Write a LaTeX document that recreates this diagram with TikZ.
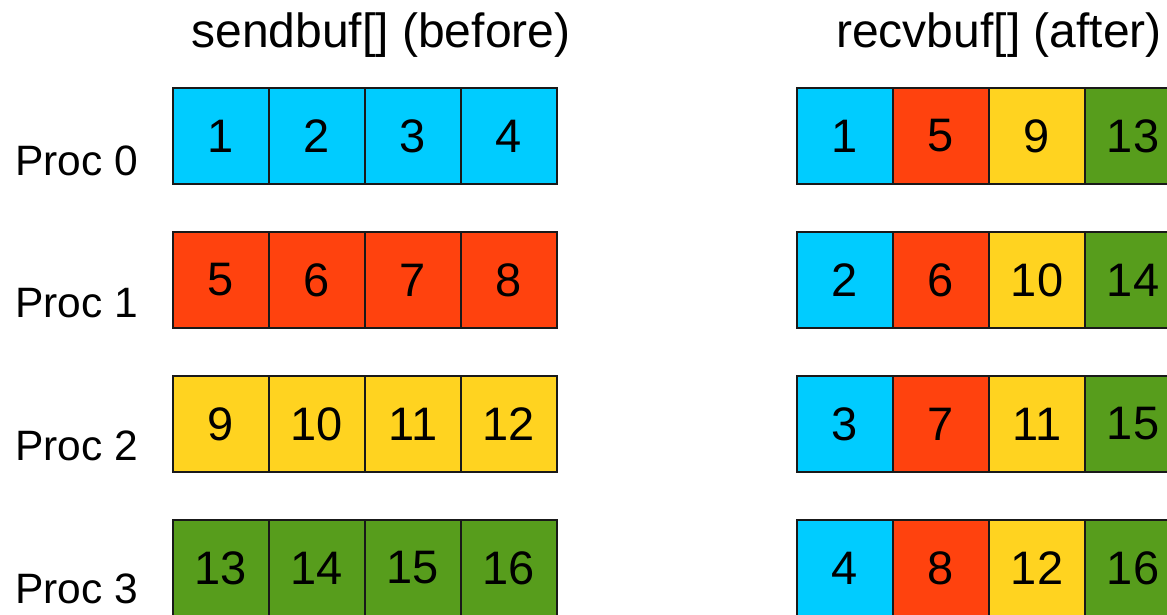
\documentclass[tikz,border=0pt]{standalone}
\usepackage{fontspec}
\setmainfont{Liberation Sans}
\definecolor{cblue}{HTML}{00CCFF}
\definecolor{cred}{HTML}{FF420E}
\definecolor{cyellow}{HTML}{FFD320}
\definecolor{cgreen}{HTML}{579D1C}
\begin{document}
\begin{tikzpicture}[x=1pt,y=-1pt,
  cell/.style={draw=black!90, line width=1.1pt, minimum size=96pt, inner sep=0pt,
    font=\fontsize{47}{47}\selectfont},
  title/.style={anchor=base, inner sep=0pt, font=\fontsize{48}{48}\selectfont},
  proclabel/.style={anchor=base, inner sep=0pt, font=\fontsize{42.5}{42.5}\selectfont}]
\useasboundingbox (0,0) rectangle (1167,614);
\clip (0,0) rectangle (1167,614);
\node[title] (sendtitle) at (381,47) {sendbuf[] (before)};
\node[title] (recvtitle) at (999,47) {recvbuf[] (after)};
% rows of the send and receive buffers
\foreach \i/\col in {0/cblue,1/cred,2/cyellow,3/cgreen}{
  \node[proclabel] (proc\i) at (76.5,{175+142.7*\i}) {Proc \i};
  \foreach \j/\jcol in {0/cblue,1/cred,2/cyellow,3/cgreen}{
    \pgfmathtruncatemacro{\sv}{4*\i+\j+1}
    \pgfmathtruncatemacro{\rv}{4*\j+\i+1}
    \node[cell, fill=\col] (send-\i-\j) at ({221+96*\j},{136+144*\i}) {\sv};
    \node[cell, fill=\jcol] (recv-\i-\j) at ({845+96*\j},{136+144*\i}) {\rv};
  }
}
\end{tikzpicture}
\end{document}
